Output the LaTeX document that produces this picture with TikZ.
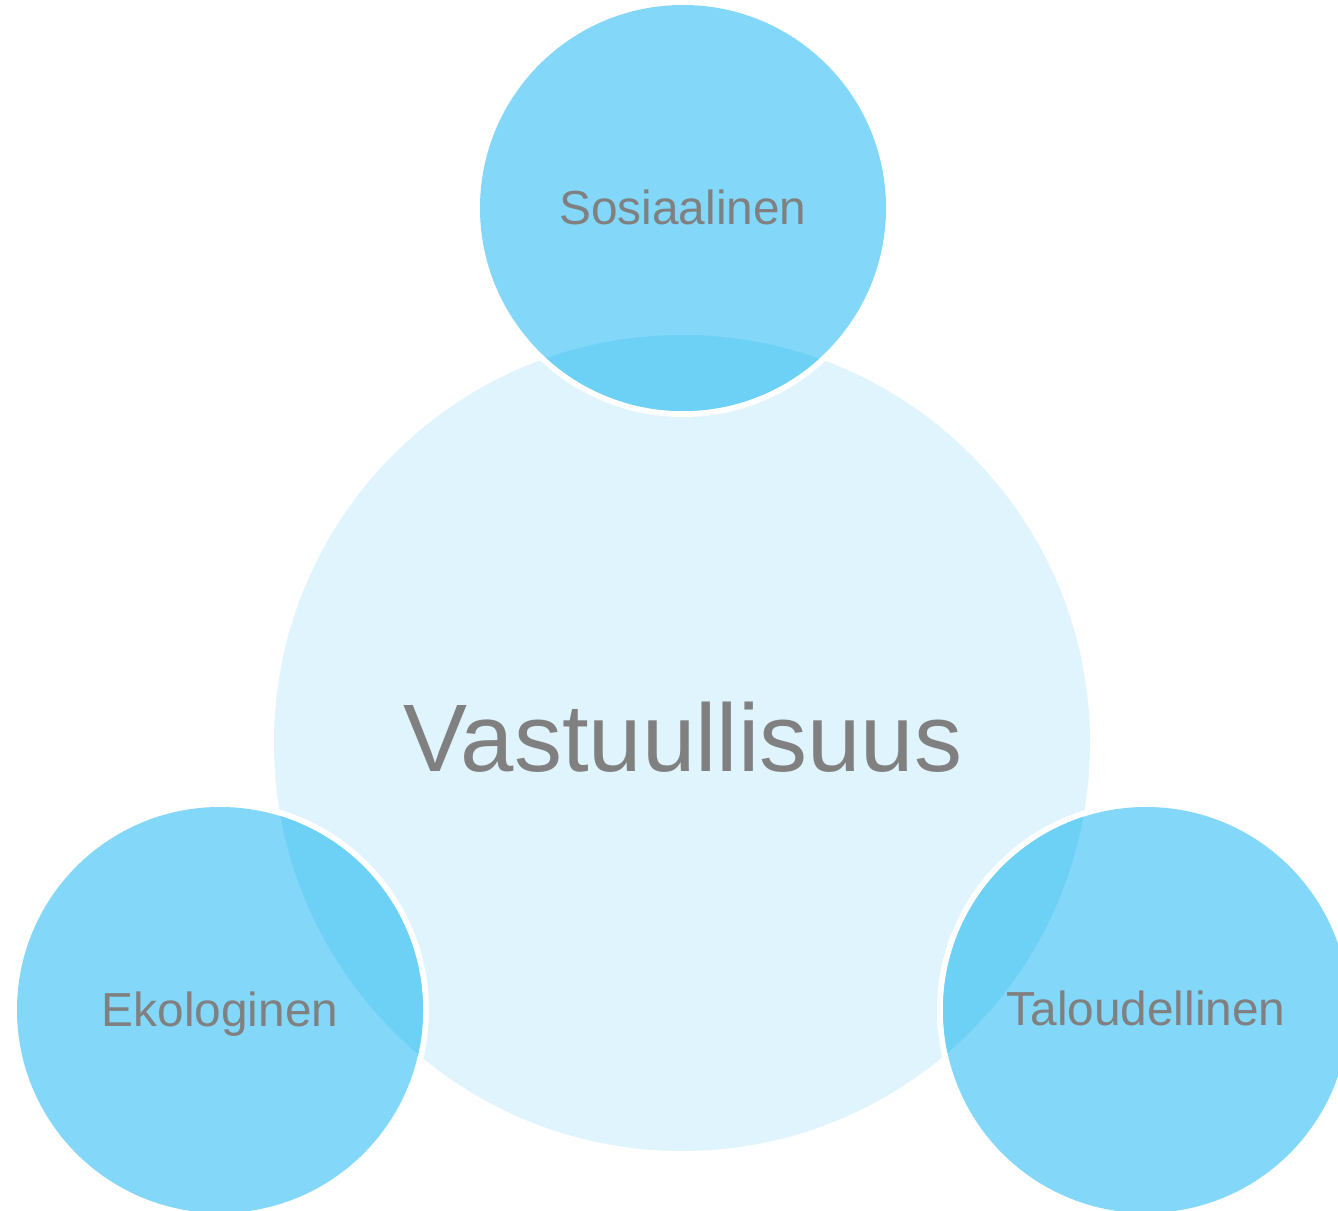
\documentclass[tikz,border=0pt]{standalone}
\usepackage{fontspec}
\setmainfont{Liberation Sans}
\definecolor{corefill}{HTML}{DFF4FD}
\definecolor{petalfill}{HTML}{83D7F8}
\definecolor{overlapfill}{HTML}{6DD1F6}
\definecolor{labelgray}{HTML}{808080}
\tikzset{
  petal edge/.style={white,line width=0.12cm},
  label text/.style={text=labelgray,anchor=base,inner sep=0pt,
    font=\fontsize{27.2}{31}\selectfont}
}
\begin{document}
\begin{tikzpicture}[x=0.02cm,y=0.02cm]
  \useasboundingbox (0,0) rectangle (1338,1210);
  \clip (0,0) rectangle (1338,1210);
  \coordinate (core) at (682,467);
  \coordinate (sos) at (683,1002);
  \coordinate (eko) at (220,200);
  \coordinate (tal) at (1146,200);
  % big circle
  \fill[corefill] (core) circle (408);
  % white rims
  \draw[petal edge] (sos) circle (206) (eko) circle (206) (tal) circle (206);
  % small circles
  \fill[petalfill] (sos) circle (203) (eko) circle (203) (tal) circle (203);
  \begin{scope}
    \clip (core) circle (408);
    \fill[overlapfill] (sos) circle (203) (eko) circle (203) (tal) circle (203);
  \end{scope}
  % labels
  \node[label text,font=\fontsize{54.6}{62}\selectfont] (vastuu) at (683,438) {Vastuullisuus};
  \node[label text] (sosiaalinen) at (683,985) {Sosiaalinen};
  \node[label text] (ekologinen) at (220,183) {Ekologinen};
  \node[label text] (taloudellinen) at (1146,184) {Taloudellinen};
\end{tikzpicture}
\end{document}
